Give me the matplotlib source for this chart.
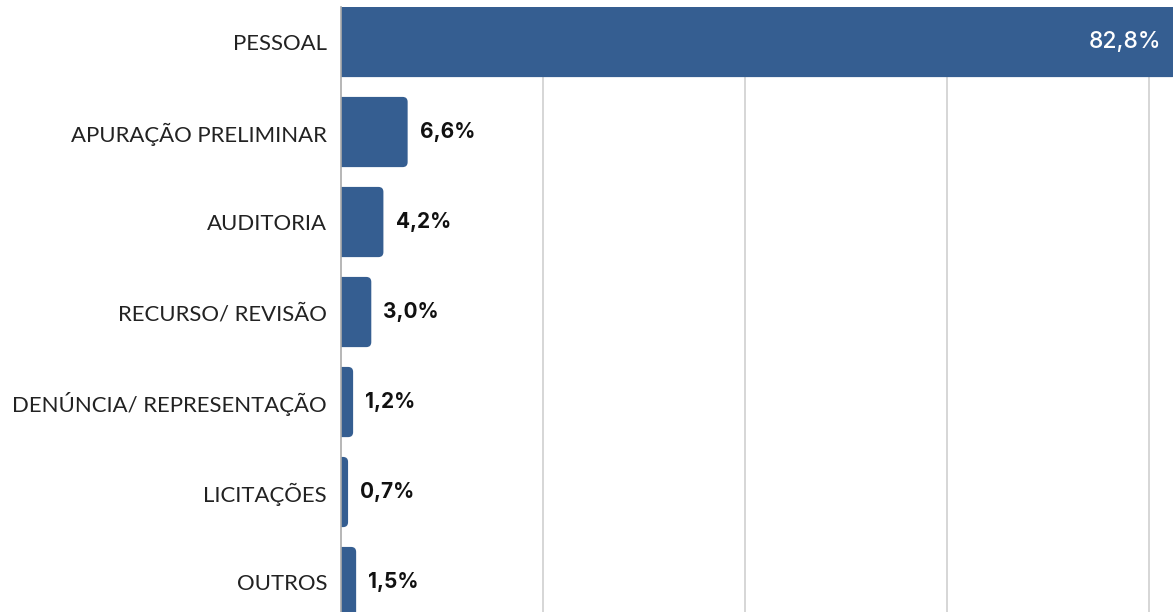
import numpy as np
import matplotlib.pyplot as plt
from matplotlib.patches import FancyBboxPatch

# data
categorias = ['PESSOAL', 'APURAÇÃO PRELIMINAR', 'AUDITORIA', 'RECURSO/ REVISÃO',
              'DENÚNCIA/ REPRESENTAÇÃO', 'LICITAÇÕES', 'OUTROS']
valores = [82.8, 6.6, 4.2, 3.0, 1.2, 0.7, 1.5]
rotulos = ['82,8%', '6,6%', '4,2%', '3,0%', '1,2%', '0,7%', '1,5%']

cor = '#355e91'

fig = plt.figure(figsize=(11.73, 6.12), dpi=100)
ax = fig.add_axes([341/1173, 0, 1 - 341/1173, 605/612])

xmax = 82.4
ax.set_xlim(0, xmax)
ax.set_ylim(len(valores) - 1 + 0.333, -0.389)

# bars with rounded right end
h = 0.78
r = 0.5                      # radius in x units
asp = (5/90) / r             # convert to y units
for i, v in enumerate(valores):
    p = FancyBboxPatch((-2, i - h/2), v + 2, h,
                       boxstyle='round,pad=0,rounding_size=%s' % r,
                       mutation_aspect=asp, fc=cor, ec='none', zorder=3)
    ax.add_patch(p)
    if v > 50:
        ax.text(v - 1.6, i, rotulos[i], ha='right', va='center', color='white',
                fontsize=16.5, family='Inter', fontweight='medium', zorder=4)
    else:
        ax.text(v + 1.2, i, rotulos[i], ha='left', va='center', color='#111111',
                fontsize=15, family='Inter', fontweight='bold', zorder=4)

ax.set_yticks(np.arange(len(categorias)))
ax.set_yticklabels(categorias, family='Lato', fontsize=15.9, color='#222222')
ax.tick_params(axis='y', length=0, pad=10)
ax.set_xticks([20, 40, 60, 80])
ax.tick_params(axis='x', length=0, labelbottom=False)
ax.grid(axis='x', color='#d0d0d0', linewidth=1.2, zorder=0)
for s in ['top', 'right', 'bottom']:
    ax.spines[s].set_visible(False)
ax.spines['left'].set_color('#aaaaaa')
ax.spines['left'].set_linewidth(1.2)
ax.spines['left'].set_zorder(5)

fig.savefig('out.png', dpi=100)
